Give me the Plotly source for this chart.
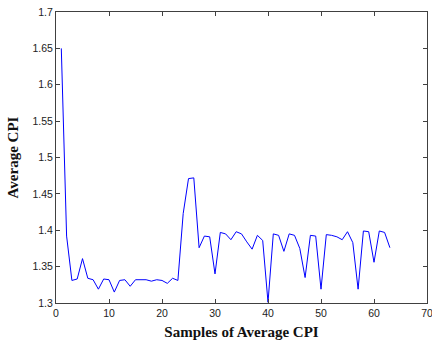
import plotly.graph_objects as go

samples = list(range(1, 64))
avg_cpi = [
    1.650, 1.392, 1.331, 1.333, 1.361, 1.334, 1.332, 1.319, 1.333, 1.332,
    1.315, 1.331, 1.332, 1.323, 1.332, 1.332, 1.332, 1.330, 1.332, 1.331,
    1.327, 1.334, 1.331, 1.423, 1.471, 1.472, 1.376, 1.392, 1.391, 1.340,
    1.397, 1.395, 1.387, 1.398, 1.395, 1.384, 1.374, 1.393, 1.386, 1.301,
    1.395, 1.393, 1.371, 1.395, 1.393, 1.375, 1.335, 1.393, 1.392, 1.319,
    1.394, 1.393, 1.391, 1.387, 1.398, 1.383, 1.319, 1.399, 1.398, 1.356,
    1.399, 1.397, 1.376,
]
x_ticks = [0, 10, 20, 30, 40, 50, 60, 70]
y_ticks = [1.3, 1.35, 1.4, 1.45, 1.5, 1.55, 1.6, 1.65, 1.7]
y_labels = ["1.3", "1.35", "1.4", "1.45", "1.5", "1.55", "1.6", "1.65", "1.7"]

fig = go.Figure()
fig.add_trace(go.Scatter(x=samples, y=avg_cpi, mode="lines",
                         line=dict(color="#0000ff", width=1), showlegend=False))

axis_common = dict(showline=True, linecolor="#404040", linewidth=1, mirror="ticks",
                   ticks="inside", ticklen=4, tickcolor="#404040", showgrid=False,
                   zeroline=False, automargin=False, ticklabeloverflow="allow",
                   tickfont=dict(family="Arial, Liberation Sans", size=10.5, color="#222222"))

fig.update_layout(
    width=432, height=341,
    margin=dict(l=56, r=5, t=12, b=38),
    paper_bgcolor="white", plot_bgcolor="white",
    xaxis=dict(range=[0, 70], tickvals=x_ticks, ticktext=[str(v) for v in x_ticks],
               title=dict(text="<b>Samples of Average CPI</b>", standoff=8,
                          font=dict(family="Liberation Serif, Times New Roman", size=15, color="#111111")),
               **axis_common),
    yaxis=dict(range=[1.3, 1.7], tickvals=y_ticks, ticktext=y_labels,
               title=dict(text="<b>Average CPI</b>", standoff=10,
                          font=dict(family="Liberation Serif, Times New Roman", size=15, color="#111111")),
               **axis_common),
)

fig.write_html("out.html", config={"displayModeBar": False},
               post_script="document.body.style.margin='0';document.body.style.overflow='hidden';")
